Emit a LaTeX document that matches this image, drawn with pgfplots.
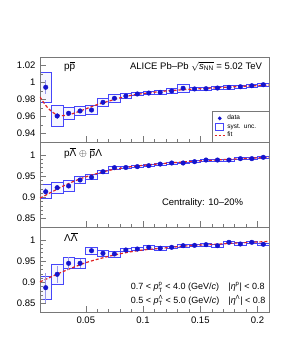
\documentclass[border=0pt]{standalone}
\usepackage{pgfplots}
\pgfplotsset{compat=1.18}
\usepackage{pgfplotstable}
\usepackage{fontspec}
\setmainfont{Liberation Sans}
\definecolor{dblue}{RGB}{20,20,205}
\definecolor{bblue}{RGB}{70,70,250}
\definecolor{fitred}{RGB}{225,35,35}
\definecolor{frame}{RGB}{120,120,120}
\newcommand{\ovl}[1]{$\overline{\hbox{#1}}$}
\newcommand{\ssf}{\fontsize{6.5}{7}\selectfont}

% k*  C  stat  sys
\pgfplotstableread{
x y stat sys
0.015 0.9944 0.0085 0.018
0.025 0.9606 0.003 0.012
0.035 0.9638 0.003 0.0073
0.045 0.9665 0.002 0.005
0.055 0.9676 0.002 0.0055
0.065 0.9767 0.002 0.005
0.075 0.9814 0.002 0.0045
0.085 0.9841 0.0015 0.003
0.095 0.9865 0.0015 0.002
0.105 0.9876 0.0015 0.002
0.115 0.9884 0.001 0.002
0.125 0.9900 0.001 0.0028
0.135 0.9932 0.001 0.0045
0.145 0.9924 0.001 0.002
0.155 0.9927 0.001 0.002
0.165 0.9935 0.001 0.0015
0.175 0.9943 0.001 0.0018
0.185 0.9950 0.001 0.0018
0.195 0.9962 0.001 0.0015
0.205 0.9974 0.001 0.0015
}\tabpp

\pgfplotstableread{
x y
0.010 0.983
0.015 0.973
0.020 0.966
0.025 0.962
0.030 0.961
0.035 0.962
0.040 0.964
0.050 0.969
0.060 0.974
0.070 0.978
0.080 0.982
0.090 0.985
0.100 0.987
0.120 0.990
0.140 0.992
0.160 0.9935
0.180 0.995
0.210 0.997
}\fitpp

\pgfplotstableread{
x y stat sys
0.015 0.9130 0.008 0.0165
0.025 0.9225 0.006 0.0137
0.035 0.9265 0.005 0.013
0.045 0.9406 0.004 0.0078
0.055 0.9470 0.003 0.006
0.065 0.9600 0.003 0.004
0.075 0.9696 0.002 0.003
0.085 0.9700 0.002 0.003
0.095 0.9720 0.002 0.0025
0.105 0.9743 0.002 0.0025
0.115 0.9780 0.002 0.0025
0.125 0.9806 0.002 0.0025
0.135 0.9806 0.002 0.002
0.145 0.9837 0.002 0.002
0.155 0.9876 0.002 0.002
0.165 0.9876 0.002 0.002
0.175 0.9876 0.002 0.002
0.185 0.9908 0.002 0.002
0.195 0.9908 0.002 0.002
0.205 0.9940 0.002 0.002
}\tabpl

\pgfplotstableread{
x y
0.010 0.898
0.020 0.912
0.030 0.926
0.040 0.938
0.050 0.948
0.060 0.956
0.070 0.963
0.080 0.968
0.090 0.972
0.100 0.975
0.120 0.980
0.140 0.984
0.160 0.987
0.180 0.990
0.210 0.994
}\fitpl

\pgfplotstableread{
x y stat sys
0.015 0.8872 0.035 0.0275
0.025 0.9187 0.020 0.0227
0.035 0.9446 0.015 0.013
0.045 0.9446 0.010 0.011
0.055 0.9742 0.006 0.008
0.065 0.9680 0.006 0.007
0.075 0.9665 0.005 0.007
0.085 0.9759 0.004 0.004
0.095 0.9782 0.004 0.004
0.105 0.9822 0.004 0.004
0.115 0.9800 0.004 0.004
0.125 0.9822 0.004 0.003
0.135 0.9860 0.004 0.003
0.145 0.9868 0.004 0.003
0.155 0.9884 0.004 0.003
0.165 0.9860 0.004 0.003
0.175 0.9940 0.004 0.003
0.185 0.9900 0.004 0.003
0.195 0.9940 0.004 0.003
0.205 0.9893 0.004 0.003
}\tabll

\pgfplotstableread{
x y
0.010 0.901
0.020 0.913
0.030 0.925
0.040 0.936
0.050 0.946
0.060 0.954
0.070 0.961
0.080 0.967
0.090 0.972
0.100 0.976
0.120 0.981
0.140 0.986
0.160 0.989
0.180 0.992
0.210 0.996
}\fitll

\pgfplotsset{
  panel/.style={scale only axis, width=229pt, height=85pt,
    xmin=0.01, xmax=0.21},
  boxaxis/.style={panel, hide axis, ybar stacked, bar width=0.01},
  mainaxis/.style={panel,
    axis line style={frame, line width=0.5pt},
    tick style={frame, line width=0.4pt},
    tick align=inside, xtick pos=bottom, ytick pos=left,
    xtick={0.05,0.1,0.15,0.2}, minor x tick num=4,
    major tick length=6pt, minor tick length=3pt,
    tick label style={font=\fontsize{9.5}{10}\selectfont},
    /pgf/number format/assume math mode=true,
    yticklabel style={xshift=-1pt}},
  datast/.style={only marks, mark=*, mark size=2.3pt, color=dblue,
    error bars/.cd, y dir=both, y explicit, error mark=none,
    error bar style={dblue!45, line width=0.5pt}},
  fitst/.style={fitred, line width=1.2pt, dash pattern=on 3pt off 2pt, smooth},
  sysst/.style={draw=bblue, fill=bblue!5, line width=0.7pt},
}

\begin{document}
\begin{tikzpicture}
\useasboundingbox (-40pt,-283pt) rectangle (253pt,57pt);

% ---------- top panel ----------
\begin{axis}[boxaxis, at={(0,0)}, anchor=north west, ymin=0.93, ymax=1.03]
\addplot[draw=none, fill=none] table[x=x, y expr=\thisrow{y}-\thisrow{sys}] {\tabpp};
\addplot[sysst] table[x=x, y expr=2*\thisrow{sys}] {\tabpp};
\end{axis}
\begin{axis}[mainaxis, at={(0,0)}, anchor=north west, ymin=0.93, ymax=1.03,
  ytick={0.94,0.96,0.98,1,1.02}, minor y tick num=1, xticklabels={},
  legend style={at={(1,0)}, anchor=south east, draw=frame, line width=0.4pt,
    font=\ssf, row sep=-1.5pt, inner sep=1.5pt, legend cell align=left,
    text width=38pt},
  legend image code/.code={\draw[#1] (0pt,0pt) -- (10pt,0pt);}]
\addlegendimage{legend image code/.code={\fill[dblue] (5pt,0pt) circle (1.7pt);}}
\addlegendentry{data}
\addlegendimage{legend image code/.code={\draw[bblue, line width=0.6pt] (1pt,-3.5pt) rectangle (9pt,3.5pt);}}
\addlegendentry{syst. unc.}
\addlegendimage{legend image code/.code={\draw[fitred, line width=1.1pt, dash pattern=on 2.5pt off 1.5pt] (0pt,0pt) -- (10pt,0pt);}}
\addlegendentry{fit}
\addplot[forget plot, fitst] table[x=x, y=y] {\fitpp};
\addplot[forget plot, datast] table[x=x, y=y, y error=stat] {\tabpp};
\node[anchor=west, font=\fontsize{10}{11}\selectfont] at (rel axis cs:0.09,0.885) {p\ovl{p}};
\node[anchor=east, font=\fontsize{9.5}{11}\selectfont] at (rel axis cs:0.985,0.885)
  {ALICE Pb–Pb $\sqrt{\hbox{\textit{s}}_{\hbox{\fontsize{6.5}{7}\selectfont NN}}}$ = 5.02 TeV};
\node[rotate=90, anchor=south east, font=\fontsize{11.5}{12}\selectfont, inner sep=0pt]
  at ([xshift=-25pt, yshift=-2pt]rel axis cs:0,1) {\textit{C}(\textit{k}\textsuperscript{*})};
\end{axis}

% ---------- middle panel ----------
\begin{axis}[boxaxis, at={(0,-85pt)}, anchor=north west, ymin=0.83, ymax=1.03]
\addplot[draw=none, fill=none] table[x=x, y expr=\thisrow{y}-\thisrow{sys}] {\tabpl};
\addplot[sysst] table[x=x, y expr=2*\thisrow{sys}] {\tabpl};
\end{axis}
\begin{axis}[mainaxis, at={(0,-85pt)}, anchor=north west, ymin=0.83, ymax=1.03,
  ytick={0.85,0.9,0.95,1}, minor y tick num=4, xticklabels={}]
\addplot[fitst] table[x=x, y=y] {\fitpl};
\addplot[datast] table[x=x, y=y, y error=stat] {\tabpl};
\node[anchor=west, font=\fontsize{10}{11}\selectfont] at (rel axis cs:0.09,0.87)
  {p\ovl{Λ} $\oplus$ \ovl{p}Λ};
\node[font=\fontsize{9.5}{11}\selectfont] at (rel axis cs:0.71,0.285) {Centrality: 10–20\%};
\end{axis}

% ---------- bottom panel ----------
\begin{axis}[boxaxis, at={(0,-170pt)}, anchor=north west, ymin=0.83, ymax=1.03]
\addplot[draw=none, fill=none] table[x=x, y expr=\thisrow{y}-\thisrow{sys}] {\tabll};
\addplot[sysst] table[x=x, y expr=2*\thisrow{sys}] {\tabll};
\end{axis}
\begin{axis}[mainaxis, at={(0,-170pt)}, anchor=north west, ymin=0.83, ymax=1.03,
  ytick={0.85,0.9,0.95,1}, minor y tick num=4,
  xticklabels={0.05,0.1,0.15,0.2}, xticklabel style={yshift=-1pt}]
\addplot[fitst] table[x=x, y=y] {\fitll};
\addplot[datast] table[x=x, y=y, y error=stat] {\tabll};
\node[anchor=west, font=\fontsize{10}{11}\selectfont] at (rel axis cs:0.09,0.885) {Λ\ovl{Λ}};
\node[anchor=east, font=\fontsize{9}{10}\selectfont, inner sep=0pt] at (rel axis cs:0.985,0.21)
  {\begin{tabular}{@{}l@{\hspace{9pt}}l@{}}
   0.7 < $\hbox{\textit{p}}^{\hbox{\fontsize{6}{6}\selectfont p}}_{\hbox{\fontsize{6}{6}\selectfont T}}$ < 4.0 (GeV/\textit{c}) &
   |\textit{η}$^{\hbox{\fontsize{6}{6}\selectfont p}}$| < 0.8\\[3pt]
   0.5 < $\hbox{\textit{p}}^{\hbox{\fontsize{6}{6}\selectfont Λ}}_{\hbox{\fontsize{6}{6}\selectfont T}}$ < 5.0 (GeV/\textit{c}) &
   |\textit{η}$^{\hbox{\fontsize{6}{6}\selectfont Λ}}$| < 0.8
   \end{tabular}};
\node[anchor=north east, font=\fontsize{10}{11}\selectfont, inner sep=0pt]
  at ([yshift=-14pt, xshift=-1pt]rel axis cs:1,0) {\textit{k}\textsuperscript{*} (GeV/\textit{c})};
\end{axis}
\end{tikzpicture}
\end{document}
